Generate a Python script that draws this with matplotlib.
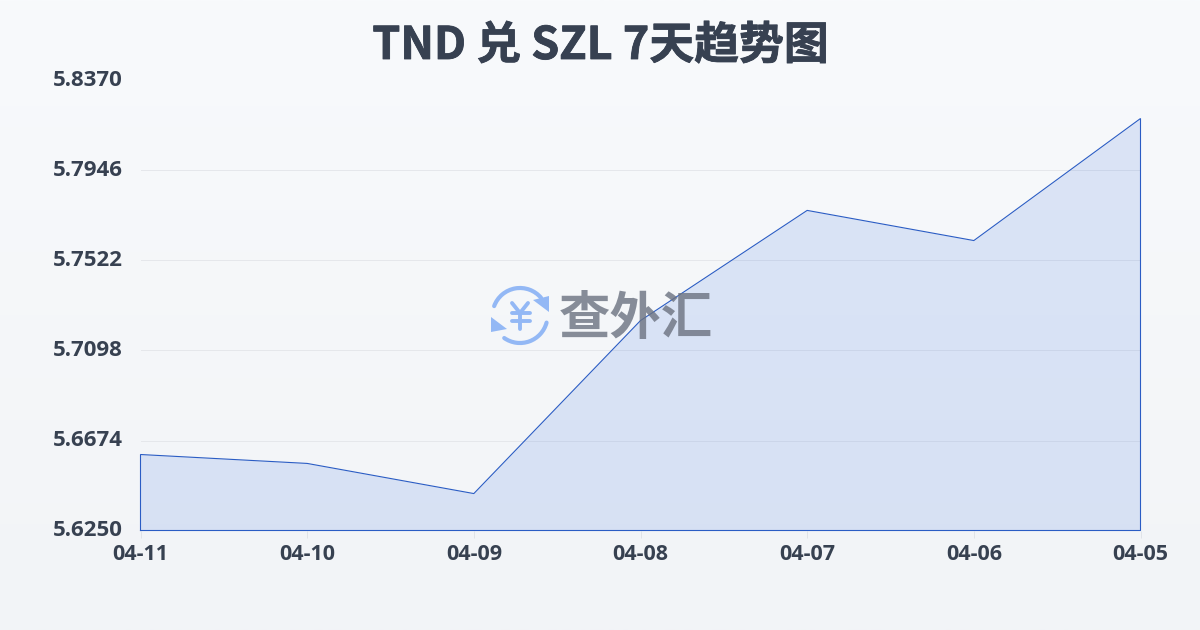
import numpy as np
import matplotlib
matplotlib.use("Agg")
import matplotlib.pyplot as plt
import matplotlib.patheffects as pe
from matplotlib.patches import Arc, Polygon

plt.rcParams['font.family'] = ['Noto Sans CJK SC', 'DejaVu Sans']

dates = ['04-11', '04-10', '04-09', '04-08', '04-07', '04-06', '04-05']
rates = [5.6608, 5.6566, 5.6424, 5.7239, 5.7758, 5.7616, 5.8191]
y_ticks = [5.6250, 5.6674, 5.7098, 5.7522, 5.7946, 5.8370]
title = 'TND 兑 SZL 7天趋势图'
brand = '查外汇'

W, H = 1200, 630
fig = plt.figure(figsize=(W / 100, H / 100), dpi=100)

bg = fig.add_axes([0, 0, 1, 1], zorder=0)
bg.imshow(np.linspace(0, 1, 256).reshape(-1, 1), aspect='auto', extent=(0, W, H, 0),
          cmap=matplotlib.colors.LinearSegmentedColormap.from_list('bg', ['#f8fafc', '#f2f4f7']))
bg.axis('off')

L, R, T, B = 140.5, 1140.5, 80.5, 530.5
ax = fig.add_axes([L / W, 1 - B / H, (R - L) / W, (B - T) / H], zorder=1)
ax.patch.set_alpha(0)
x = np.arange(len(dates))
ax.set_xlim(0, len(dates) - 1)
ax.set_ylim(y_ticks[0], y_ticks[-1])
for s in ax.spines.values():
    s.set_visible(False)
ax.set_yticks(y_ticks, [f'{v:.4f}' for v in y_ticks])
ax.set_xticks(x, dates)
ax.grid(axis='y', color='#e5e7eb', lw=0.72)
ax.set_axisbelow(True)
ax.tick_params(axis='y', length=0, pad=13, labelsize=16, labelcolor='#374151')
ax.tick_params(axis='x', length=5, width=0.72, color='#e0e3e8', pad=4.5, labelsize=15.5, labelcolor='#374151')
for lab in ax.get_xticklabels() + ax.get_yticklabels():
    lab.set_fontfamily(['Open Sans', 'DejaVu Sans'])
    lab.set_fontweight('bold')
for lab in ax.get_yticklabels():
    lab.set_transform(lab.get_transform() + matplotlib.transforms.ScaledTranslation(0, 1.5 / 72, fig.dpi_scale_trans))

ax.fill_between(x, rates, y_ticks[0], color='#3a71df', alpha=0.15, lw=0, clip_on=False)
ax.plot(np.r_[x[0], x, x[-1], x[0]], np.r_[y_ticks[0], rates, y_ticks[0], y_ticks[0]],
        color='#2a5cc4', lw=0.8, clip_on=False, solid_joinstyle='miter')

fig.text(600.5 / W, 1 - 46 / H, title, ha='center', va='center', fontsize=32.3,
         fontweight='bold', color='#374151',
         path_effects=[pe.withStroke(linewidth=0.6, foreground='#374151')])

# watermark, laid out in pixel coordinates
wm = fig.add_axes([0, 0, 1, 1], zorder=2)
wm.set_xlim(0, W)
wm.set_ylim(H, 0)
wm.axis('off')
blue = '#93b8f5'
cx, cy, d = 520, 315.5, 55
wm.add_patch(Arc((cx, cy), d, d, theta1=200, theta2=320, color=blue, lw=3, capstyle='round'))
wm.add_patch(Arc((cx, cy), d, d, theta1=15, theta2=125, color=blue, lw=3, capstyle='round'))
wm.add_patch(Polygon([[533, 300], [549, 296], [549, 312]], closed=True, color=blue, lw=0))
wm.add_patch(Polygon([[491, 317], [491, 332], [507, 329]], closed=True, color=blue, lw=0))
yen_kw = dict(color=blue, lw=2.8, solid_capstyle='round', solid_joinstyle='round')
wm.plot([512, 520, 528], [303, 313, 303], **yen_kw)
wm.plot([511.5, 529.5], [313, 313], **yen_kw)
wm.plot([511.5, 529.5], [320.5, 320.5], **yen_kw)
wm.plot([520, 520], [313, 329], **yen_kw)
wm.text(635.5, 318.5, brand, ha='center', va='center', fontsize=37, fontweight='bold',
        color='#6b7280', alpha=0.8)

fig.savefig('out.png', dpi=100)
